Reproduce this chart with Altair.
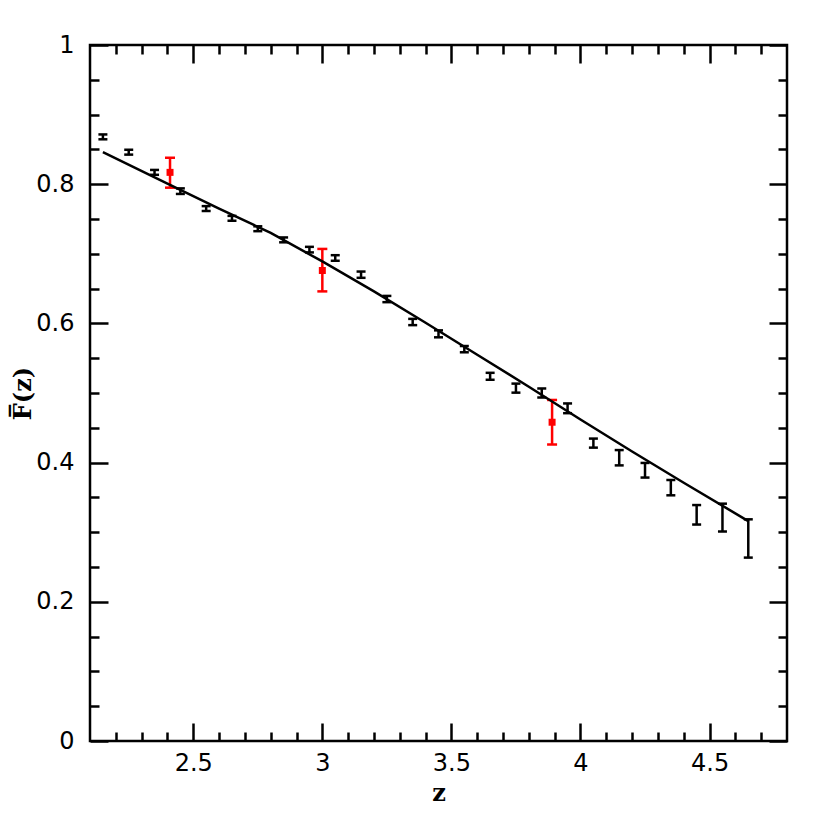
import altair as alt
import pandas as pd

# ---- data ----
z_black = [2.15, 2.25, 2.35, 2.45, 2.55, 2.65, 2.75, 2.85, 2.95, 3.05, 3.15, 3.25, 3.35,
           3.45, 3.55, 3.65, 3.75, 3.85, 3.95, 4.05, 4.15, 4.25, 4.35, 4.45, 4.55, 4.65]
F_black = [0.868, 0.846, 0.817, 0.790, 0.765, 0.751, 0.736, 0.720, 0.706, 0.694, 0.670, 0.635, 0.602,
           0.585, 0.563, 0.524, 0.507, 0.500, 0.478, 0.428, 0.407, 0.389, 0.364, 0.325, 0.321, 0.291]
err_black = [0.0035, 0.0035, 0.0035, 0.004, 0.0035, 0.0035, 0.0035, 0.0035, 0.004, 0.004, 0.0045, 0.0045, 0.0045,
             0.005, 0.0045, 0.005, 0.0065, 0.0065, 0.007, 0.0065, 0.011, 0.0105, 0.011, 0.014, 0.020, 0.0275]

z_red = [2.41, 3.00, 3.89]
F_red = [0.817, 0.676, 0.458]
lo_red = [0.795, 0.646, 0.426]
hi_red = [0.838, 0.707, 0.490]

z_model = [2.15, 2.4, 2.6, 2.8, 3.0, 3.2, 3.4, 3.6, 3.8, 4.0, 4.2, 4.4, 4.65]
F_model = [0.846, 0.801, 0.765, 0.730, 0.689, 0.646, 0.601, 0.555, 0.509, 0.462, 0.416, 0.371, 0.316]

x_major = [2.5, 3.0, 3.5, 4.0, 4.5]
x_minor = [2.2, 2.3, 2.4, 2.6, 2.7, 2.8, 2.9, 3.1, 3.2, 3.3, 3.4, 3.6, 3.7, 3.8, 3.9,
           4.1, 4.2, 4.3, 4.4, 4.6, 4.7]
y_major = [0.0, 0.2, 0.4, 0.6, 0.8, 1.0]
y_minor = [0.05, 0.1, 0.15, 0.25, 0.3, 0.35, 0.45, 0.5, 0.55, 0.65, 0.7, 0.75, 0.85, 0.9, 0.95]

df_b = pd.DataFrame({"z": z_black, "F": F_black, "err": err_black})
df_b["lo"] = df_b["F"] - df_b["err"]
df_b["hi"] = df_b["F"] + df_b["err"]
df_r = pd.DataFrame({"z": z_red, "F": F_red, "lo": lo_red, "hi": hi_red})
df_m = pd.DataFrame({"z": z_model, "F": F_model})

xs = alt.Scale(domain=[2.1, 4.8], nice=False, zero=False)
ys = alt.Scale(domain=[0, 1], nice=False, zero=False)

MAJ = 18
MIN = 9
TW = 2.5


def axis(orient, values, size, labels=False, **kw):
    return alt.Axis(orient=orient, values=values, tickSize=size, offset=-size, domain=False,
                    grid=False, labels=labels, tickColor="black", tickWidth=TW, **kw)


lab = dict(format="~g", labelFont="DejaVu Sans", labelFontSize=24, labelColor="black")
ttl = dict(titleFont="DejaVu Serif", titleFontSize=24, titleFontWeight="bold", titleColor="black")

ax_bottom = axis("bottom", x_major, MAJ, labels=True, labelPadding=10, title="z", titlePadding=6, **lab, **ttl)
ax_bottom_min = axis("bottom", x_minor, MIN, title=None)
ax_top = axis("top", x_major, MAJ, title=None)
ax_top_min = axis("top", x_minor, MIN, title=None)
ax_left = axis("left", y_major, MAJ, labels=True, labelPadding=16, title="F\u0305(z)", titlePadding=0, **lab, **ttl)
ax_left_min = axis("left", y_minor, MIN, title=None)
ax_right = axis("right", y_major, MAJ, title=None)
ax_right_min = axis("right", y_minor, MIN, title=None)

line = alt.Chart(df_m).mark_line(color="black", strokeWidth=2.5).encode(
    x=alt.X("z:Q", scale=xs, axis=ax_bottom),
    y=alt.Y("F:Q", scale=ys, axis=ax_left),
)

b_rule = alt.Chart(df_b).mark_rule(color="black", strokeWidth=2.5).encode(
    x=alt.X("z:Q", scale=xs, axis=ax_bottom_min),
    y=alt.Y("lo:Q", scale=ys, axis=ax_left_min),
    y2="hi:Q",
)
b_lo = alt.Chart(df_b).mark_tick(orient="horizontal", color="black", size=9, thickness=2.5, opacity=1).encode(
    x=alt.X("z:Q", scale=xs, axis=ax_top),
    y=alt.Y("lo:Q", scale=ys, axis=ax_right),
)
b_hi = alt.Chart(df_b).mark_tick(orient="horizontal", color="black", size=9, thickness=2.5, opacity=1).encode(
    x=alt.X("z:Q", scale=xs, axis=ax_top_min),
    y=alt.Y("hi:Q", scale=ys, axis=ax_right_min),
)

r_rule = alt.Chart(df_r).mark_rule(color="#ff0000", strokeWidth=2.5).encode(
    x=alt.X("z:Q", scale=xs, axis=None),
    y=alt.Y("lo:Q", scale=ys, axis=None),
    y2="hi:Q",
)
r_lo = alt.Chart(df_r).mark_tick(orient="horizontal", color="#ff0000", size=10, thickness=2.5, opacity=1).encode(
    x=alt.X("z:Q", scale=xs, axis=None),
    y=alt.Y("lo:Q", scale=ys, axis=None),
)
r_hi = alt.Chart(df_r).mark_tick(orient="horizontal", color="#ff0000", size=10, thickness=2.5, opacity=1).encode(
    x=alt.X("z:Q", scale=xs, axis=None),
    y=alt.Y("hi:Q", scale=ys, axis=None),
)
r_pt = alt.Chart(df_r).mark_square(color="#ff0000", size=49, opacity=1).encode(
    x=alt.X("z:Q", scale=xs, axis=None),
    y=alt.Y("F:Q", scale=ys, axis=None),
)

chart = (
    alt.layer(b_rule, b_lo, b_hi, r_rule, r_lo, r_hi, r_pt, line)
    .resolve_axis(x="independent", y="independent")
    .properties(
        width=697,
        height=696,
        autosize=alt.AutoSizeParams(type="none"),
        padding={"left": 82, "top": 37, "right": 30, "bottom": 70},
        background="white",
    )
    .configure_view(stroke="black", strokeWidth=2.5)
)

chart.save("out.html", embed_options={"renderer": "svg", "actions": False})
